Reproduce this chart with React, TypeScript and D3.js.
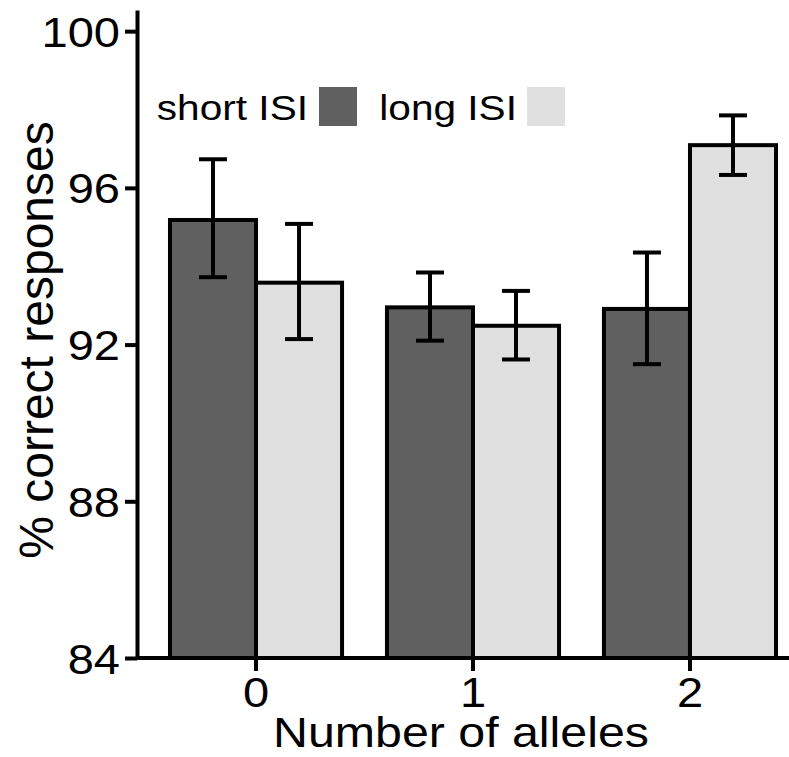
import React, { useRef, useEffect } from 'react';
import * as d3 from 'd3';

const alleles = ['0', '1', '2'];
const conditions = ['short ISI', 'long ISI'];
const shortMean = [95.18, 92.95, 92.91];
const shortLow = [93.72, 92.1, 91.5];
const shortHigh = [96.73, 93.84, 94.35];
const longMean = [93.58, 92.48, 97.09];
const longLow = [92.14, 91.62, 96.33];
const longHigh = [95.08, 93.37, 97.85];
const yTicks = [84, 88, 92, 96, 100];
const colors = ['#606060', '#e0e0e0'];

const W = 789;
const H = 757;

// the reference lettering is a bit wider than Liberation Sans
const stretch = (sel: any, k: number) => {
  sel.each(function (this: SVGTextElement) {
    const len = this.getComputedTextLength();
    d3.select(this).attr('textLength', len * k).attr('lengthAdjust', 'spacingAndGlyphs');
  });
};

export default function App() {
  const svgRef = useRef<SVGSVGElement>(null);

  useEffect(() => {
    const svg = d3.select(svgRef.current);
    svg.selectAll('*').remove();

    const font = '"Liberation Sans", Arial, sans-serif';
    const y = d3.scaleLinear().domain([84, 100.54]).range([658, 10]);
    const x = d3.scaleBand().domain(alleles).range([137, 809])
      .paddingInner(0.207).paddingOuter(0.152);
    const xSub = d3.scaleBand().domain(conditions).range([0, x.bandwidth()]);

    const rows = alleles.flatMap((a, i) => [
      { a, c: conditions[0], m: shortMean[i], lo: shortLow[i], hi: shortHigh[i], col: colors[0] },
      { a, c: conditions[1], m: longMean[i], lo: longLow[i], hi: longHigh[i], col: colors[1] },
    ]);

    // bars
    svg.append('g').selectAll('rect').data(rows).join('rect')
      .attr('x', d => x(d.a)! + xSub(d.c)!)
      .attr('y', d => y(d.m))
      .attr('width', xSub.bandwidth())
      .attr('height', d => y(84) - y(d.m))
      .attr('fill', d => d.col)
      .attr('stroke', '#000')
      .attr('stroke-width', 4);

    // error bars
    const eb = svg.append('g').attr('stroke', '#000').attr('stroke-width', 4);
    const cap = 14;
    rows.forEach(d => {
      const cx = x(d.a)! + xSub(d.c)! + xSub.bandwidth() / 2;
      eb.append('line').attr('x1', cx).attr('x2', cx).attr('y1', y(d.lo)).attr('y2', y(d.hi));
      eb.append('line').attr('x1', cx - cap).attr('x2', cx + cap).attr('y1', y(d.lo)).attr('y2', y(d.lo));
      eb.append('line').attr('x1', cx - cap).attr('x2', cx + cap).attr('y1', y(d.hi)).attr('y2', y(d.hi));
    });

    // y axis
    const gy = svg.append('g').attr('transform', 'translate(137,0)')
      .call(d3.axisLeft(y).tickValues(yTicks).tickSize(12).tickSizeOuter(0).tickPadding(5));
    gy.selectAll('path, line').attr('stroke', '#000').attr('stroke-width', 4);
    const yt = gy.selectAll('text').attr('font-size', 42).attr('font-family', font).attr('fill', '#000')
      .attr('dy', '0.36em');
    stretch(yt, 1.12);

    // x axis
    const gx = svg.append('g').attr('transform', 'translate(0,658)')
      .call(d3.axisBottom(x).tickSize(13).tickSizeOuter(0).tickPadding(6));
    gx.select('path').attr('d', 'M137,0H789');
    gx.selectAll('path, line').attr('stroke', '#000').attr('stroke-width', 4);
    const xt = gx.selectAll('text').attr('font-size', 42).attr('font-family', font).attr('fill', '#000');
    stretch(xt, 1.12);

    // axis titles
    svg.append('text')
      .attr('transform', 'translate(53,340) rotate(-90)')
      .attr('text-anchor', 'middle')
      .attr('font-size', 48).attr('font-family', font)
      .text('% correct responses');
    const xTitle = svg.append('text')
      .attr('x', 461).attr('y', 747)
      .attr('text-anchor', 'middle')
      .attr('font-size', 42).attr('font-family', font)
      .text('Number of alleles');
    stretch(xTitle, 1.15);

    // legend
    const legend = [
      { label: conditions[0], tx: 308, rx: 319, col: colors[0] },
      { label: conditions[1], tx: 517, rx: 527, col: colors[1] },
    ];
    legend.forEach(l => {
      const t = svg.append('text').attr('x', l.tx).attr('y', 120)
        .attr('text-anchor', 'end')
        .attr('font-size', 35).attr('font-family', font)
        .text(l.label);
      stretch(t, 1.16);
      svg.append('rect').attr('x', l.rx).attr('y', 87)
        .attr('width', 38).attr('height', 39).attr('fill', l.col);
    });
  }, []);

  return (
    <svg ref={svgRef} width={W} height={H}
      style={{ position: 'absolute', left: 0, top: 0, background: '#fff' }} />
  );
}
